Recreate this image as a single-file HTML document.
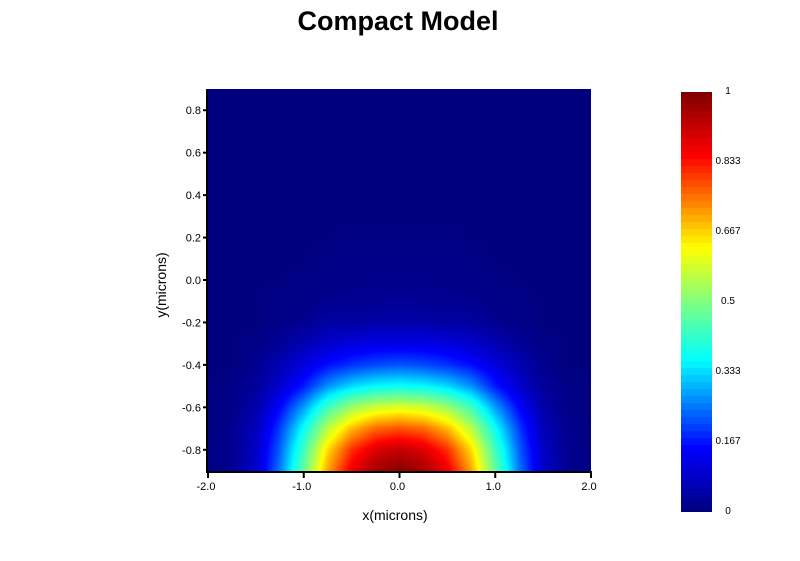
<!DOCTYPE html>
<html><head><meta charset="utf-8"><style>
body{margin:0;background:#fff;font-family:"Liberation Sans",sans-serif;}
#wrap{position:relative;width:800px;height:561px;overflow:hidden;}
svg text{font-family:"Liberation Sans",sans-serif;}
</style></head><body>
<div id="wrap">
<svg id="svg" width="800" height="561">
  <text x="398" y="30" text-anchor="middle" font-size="27" font-weight="bold" fill="#000">Compact Model</text>
  <foreignObject x="208" y="89" width="383" height="382">
    <canvas id="hm" width="383" height="382" style="display:block"></canvas>
  </foreignObject>
  <foreignObject x="681" y="92" width="31" height="420">
    <canvas id="cb" width="31" height="420" style="display:block"></canvas>
  </foreignObject>
  <g id="axes"></g>
  <text x="395" y="520" text-anchor="middle" font-size="14">x(microns)</text>
  <text x="0" y="0" transform="translate(166,285) rotate(-90)" text-anchor="middle" font-size="14">y(microns)</text>
</svg>
</div>
<script>
const xs = [-2,-1.75,-1.5,-1.25,-1,-0.75,-0.5,-0.25,0,0.25,0.5,0.75,1,1.25,1.5,1.75,2];
const ys = [-0.9,-0.8,-0.7,-0.6,-0.5,-0.4,-0.3,-0.2,-0.1,0,0.1,0.2,0.3,0.4,0.5,0.6,0.7,0.8,0.9];
const z = [
 [0.005,0.02,0.09,0.25,0.47,0.71,0.87,0.96,0.99,0.96,0.87,0.71,0.47,0.25,0.09,0.02,0.005],
 [0.005,0.02,0.08,0.23,0.43,0.66,0.81,0.89,0.92,0.89,0.81,0.66,0.43,0.23,0.08,0.02,0.005],
 [0,0.02,0.07,0.2,0.37,0.56,0.69,0.76,0.78,0.76,0.69,0.56,0.37,0.2,0.07,0.02,0],
 [0,0.01,0.05,0.15,0.28,0.43,0.53,0.58,0.6,0.58,0.53,0.43,0.28,0.15,0.05,0.01,0],
 [0,0.01,0.03,0.09,0.17,0.27,0.33,0.36,0.37,0.36,0.33,0.27,0.17,0.09,0.03,0.01,0],
 [0,0,0.02,0.06,0.11,0.16,0.19,0.21,0.22,0.21,0.19,0.16,0.11,0.06,0.02,0,0],
 [0,0,0.01,0.03,0.06,0.09,0.11,0.12,0.12,0.12,0.11,0.09,0.06,0.03,0.01,0,0],
 [0,0,0,0.01,0.02,0.04,0.04,0.05,0.05,0.05,0.04,0.04,0.02,0.01,0,0,0],
 [0,0,0,0.01,0.01,0.02,0.02,0.02,0.025,0.02,0.02,0.02,0.01,0.01,0,0,0],
 [0,0,0,0,0.01,0.01,0.01,0.015,0.015,0.015,0.01,0.01,0.01,0,0,0,0],
 [0,0,0,0,0,0.01,0.01,0.01,0.01,0.01,0.01,0.01,0,0,0,0,0],
 [0,0,0,0,0,0,0.005,0.005,0.005,0.005,0.005,0,0,0,0,0,0],
 [0,0,0,0,0,0,0,0,0,0,0,0,0,0,0,0,0],
 [0,0,0,0,0,0,0,0,0,0,0,0,0,0,0,0,0],
 [0,0,0,0,0,0,0,0,0,0,0,0,0,0,0,0,0],
 [0,0,0,0,0,0,0,0,0,0,0,0,0,0,0,0,0],
 [0,0,0,0,0,0,0,0,0,0,0,0,0,0,0,0,0],
 [0,0,0,0,0,0,0,0,0,0,0,0,0,0,0,0,0],
 [0,0,0,0,0,0,0,0,0,0,0,0,0,0,0,0,0]
];
const xTicks = [-2,-1,0,1,2];
const xTickLabels = ["-2.0","-1.0","0.0","1.0","2.0"];
const yTicks = [-0.8,-0.6,-0.4,-0.2,0,0.2,0.4,0.6,0.8];
const yTickLabels = ["-0.8","-0.6","-0.4","-0.2","0.0","0.2","0.4","0.6","0.8"];
const cbTicks = [0,0.167,0.333,0.5,0.667,0.833,1];
const cbTickLabels = ["0","0.167","0.333","0.5","0.667","0.833","1"];
const stops = [[0,[0,0,127]],[0.15,[0,0,255]],[0.36,[0,255,255]],[0.5,[128,255,128]],[0.63,[255,255,0]],[0.85,[255,0,0]],[1,[127,0,0]]];

const X0=208,X1=591,Y0=471,Y1=89;
function sx(v){return X0+(v+2)/4*(X1-X0);}
function sy(v){return Y0-(v+0.9)/1.8*(Y0-Y1);}
function color(v){v=Math.max(0,Math.min(1,v));for(let i=1;i<stops.length;i++){if(v<=stops[i][0]){const a=stops[i-1],b=stops[i],t=(v-a[0])/(b[0]-a[0]);return a[1].map((c,k)=>Math.round(c+(b[1][k]-c)*t));}}return stops[stops.length-1][1];}
function interp(x,y){
  let i=0;while(i<xs.length-2&&x>xs[i+1])i++;
  let j=0;while(j<ys.length-2&&y>ys[j+1])j++;
  const tx=Math.max(0,Math.min(1,(x-xs[i])/(xs[i+1]-xs[i]))),ty=Math.max(0,Math.min(1,(y-ys[j])/(ys[j+1]-ys[j])));
  const a=z[j][i],b=z[j][i+1],c=z[j+1][i],d=z[j+1][i+1];
  return (a*(1-tx)+b*tx)*(1-ty)+(c*(1-tx)+d*tx)*ty;
}
const cv=document.getElementById('hm');


const ctx=cv.getContext('2d');const W=cv.width,H=cv.height;const img=ctx.createImageData(W,H);
for(let py=0;py<H;py++){const yv=-0.9+(H-py-0.5)/H*1.8;for(let px=0;px<W;px++){const xv=-2+(px+0.5)/W*4;const c=color(interp(xv,yv));const k=(py*W+px)*4;img.data[k]=c[0];img.data[k+1]=c[1];img.data[k+2]=c[2];img.data[k+3]=255;}}
ctx.putImageData(img,0,0);
const cb=document.getElementById('cb');


const c2=cb.getContext('2d');
for(let py=0;py<cb.height;py++){const v=1-py/(cb.height-1);const c=color(Math.round(v*60)/60);c2.fillStyle=`rgb(${c[0]},${c[1]},${c[2]})`;c2.fillRect(0,py,cb.width,1);}

const NS='http://www.w3.org/2000/svg';const g=document.getElementById('axes');
function el(t,a){const e=document.createElementNS(NS,t);for(const k in a)e.setAttribute(k,a[k]);g.appendChild(e);return e;}
const xl=el('line',{x1:X0-1,y1:Y0+1,x2:X1+1,y2:Y0+1,stroke:'#000','stroke-width':2});


const yl=el('line',{x1:X0-1,y1:Y1,x2:X0-1,y2:Y0+2,stroke:'#000','stroke-width':2});


xTicks.forEach((v,i)=>{const x=sx(v);
 const t=el('line',{x1:x,y1:Y0,x2:x,y2:Y0+7,stroke:'#000','stroke-width':2});
 
 
 const l=el('text',{x:x-2,y:Y0+19,'text-anchor':'middle','font-size':11});l.textContent=xTickLabels[i];
 
 });
yTicks.forEach((v,i)=>{const y=sy(v);
 const t=el('line',{x1:X0-5,y1:y,x2:X0,y2:y,stroke:'#000','stroke-width':2});
 
 
 const l=el('text',{x:X0-7,y:y+4,'text-anchor':'end','font-size':11});l.textContent=yTickLabels[i];
 
 });
cbTicks.forEach((v,i)=>{const y=510-v*420;
 const l=el('text',{x:728,y:y+4,'text-anchor':'middle','font-size':10});l.textContent=cbTickLabels[i];
 
 });
</script>
</body></html>
